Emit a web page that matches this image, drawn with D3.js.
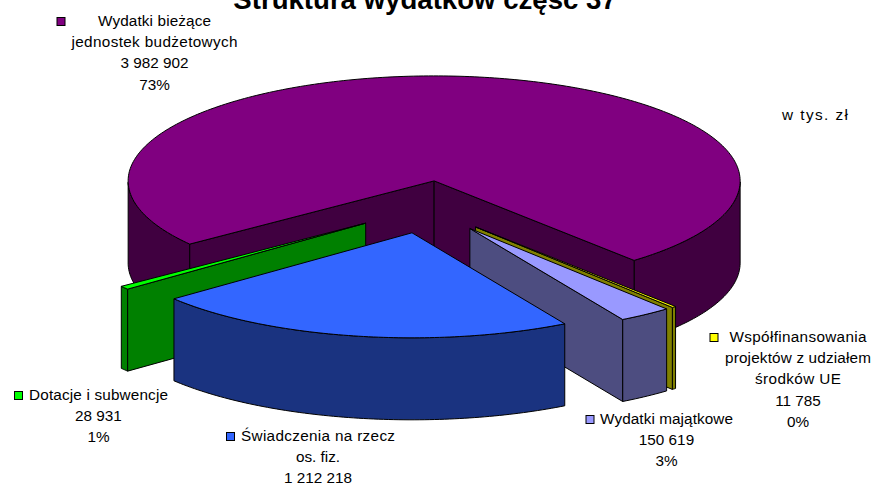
<!DOCTYPE html>
<html><head><meta charset="utf-8">
<script src="https://cdn.jsdelivr.net/npm/d3@7"></script>
<style>html,body{margin:0;padding:0;background:#fff;overflow:hidden}svg{display:block}text{font-family:"Liberation Sans",Arial,sans-serif;fill:#000}</style>
</head><body><svg id="c" width="872" height="489"></svg>
<script>
const categories = ["Wydatki bieżące jednostek budżetowych","Współfinansowania projektów z udziałem środków UE","Wydatki majątkowe","Świadczenia na rzecz os. fiz.","Dotacje i subwencje"];
const values = [3982902, 11785, 150619, 1212218, 28931];
const colors = ["#800080","#FFFF00","#9999FF","#3366FF","#00FF00"];
const labelLines = [
 ["Wydatki bieżące","jednostek budżetowych","3 982 902","73%"],
 ["Współfinansowania","projektów z udziałem","środków UE","11 785","0%"],
 ["Wydatki majątkowe","150 619","3%"],
 ["Świadczenia na rzecz","os. fiz.","1 212 218"],
 ["Dotacje i subwencje","28 931","1%"]];
const labelWidths = [[113,166],[137,146,86],[133],[154],[139]];
const labelCenters = [[154.5,26],[798,342],[666.5,424],[318,441],[98.5,400]];
const keyX = [57,710,586,226.5,14.5];
const drawOrder = [0,4,1,2,3];

const svg = d3.select("#c");
const cx=426, cy=207, rx=306, ry=105, depth=82, explode=0.25;
const rad = d=>d*Math.PI/180;
const pie = d3.pie().sort(null).startAngle(rad(233)).endAngle(rad(593));
const arcs = pie(values);
const pt=(t,r=1)=>[rx*r*Math.sin(t),-ry*r*Math.cos(t)];
const line=d3.line();

drawOrder.forEach(i=>{
  const a=arcs[i], mid=(a.startAngle+a.endAngle)/2;
  const [ox,oy]=pt(mid,explode);
  const ax=cx+ox, ay=cy+oy;
  const g=svg.append("g").attr("transform",`translate(${ax},${ay})`);
  const top=colors[i], c=d3.rgb(top);
  const wall=d3.rgb(c.r/2,c.g/2,c.b/2).formatHex();
  const style=s=>s.attr("fill",wall).attr("stroke","#000").attr("stroke-width",1).attr("stroke-linejoin","round");
  const mp=pt(mid);
  const n=Math.max(8,Math.round((a.endAngle-a.startAngle)*60));
  const rim=d3.range(n+1).map(k=>a.startAngle+(a.endAngle-a.startAngle)*k/n);
  let run=[];
  const flush=()=>{ if(run.length>1){
      const up=run.map(t=>pt(t)), dn=run.slice().reverse().map(t=>{const p=pt(t);return [p[0],p[1]+depth];});
      style(g.append("path")).attr("d",line(up.concat(dn))+"Z");
    } run=[]; };
  rim.forEach(t=>{ if(Math.cos(t)<=0) run.push(t); else flush(); }); flush();
  [a.startAngle,a.endAngle].forEach(t=>{
    const p=pt(t);
    const lineY=p[1]/p[0]*mp[0];
    if(mp[1]<lineY){
      style(g.append("path")).attr("d",line([[0,0],p,[p[0],p[1]+depth],[0,depth]])+"Z");
    }
  });
  g.append("path").attr("fill",top).attr("stroke","#000").attr("stroke-width",1).attr("stroke-linejoin","round")
   .attr("d",line([[0,0]].concat(rim.map(t=>pt(t))))+"Z");
});

svg.append("text").attr("x",425).attr("y",9).attr("text-anchor","middle")
   .attr("font-size",27.6).attr("font-weight","bold").text("Struktura wydatków część 37");
svg.append("text").attr("x",782).attr("y",120).attr("font-size",15.3)
   .attr("textLength",66).attr("lengthAdjust","spacing").text("w tys. zł");

labelLines.forEach((ls,i)=>{
  const [x,y]=labelCenters[i];
  ls.forEach((s,j)=>{
    const t=svg.append("text").attr("x",x).attr("y",y+j*21.2).attr("text-anchor","middle").attr("font-size",15.3).text(s);
    const w=labelWidths[i][j];
    if(w) t.attr("textLength",w).attr("lengthAdjust","spacing");
  });
  svg.append("rect").attr("x",keyX[i]).attr("y",y-8.5).attr("width",8).attr("height",8)
    .attr("fill",colors[i]).attr("stroke","#000").attr("stroke-width",1);
});
</script></body></html>
